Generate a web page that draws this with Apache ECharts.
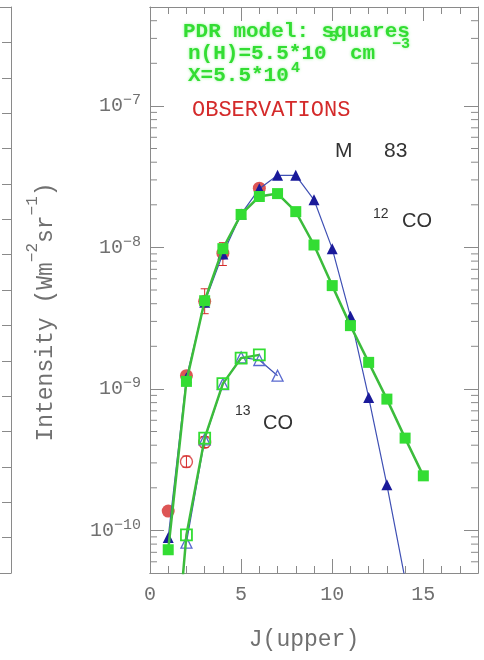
<!DOCTYPE html>
<html>
<head>
<meta charset="utf-8">
<script src="https://cdn.jsdelivr.net/npm/echarts@6/dist/echarts.min.js"></script>
<style>
  html, body { margin: 0; padding: 0; background: #fff; }
  #chart { width: 484px; height: 660px; }
</style>
</head>
<body>
<div id="chart"></div>
<script>
// J(upper) levels
const jUpper12 = [1, 2, 3, 4, 5, 6, 7, 8, 9, 10, 11, 12, 13, 14, 15];
const jUpper12Lvg = [1, 2, 3, 4, 5, 6, 7, 8, 9, 10, 11, 12, 13, 14];
const jUpper13 = [1, 2, 3, 4, 5, 6];
const jUpper13Lvg = [2, 3, 4, 5, 6, 7];
const jObs12 = [1, 2, 3, 4, 6];
const jObs13 = [2, 3];

// intensities (W m^-2 sr^-1)
const co12Pdr = [7.3e-11, 1.13e-9, 4.2e-9, 9.8e-9, 1.71e-8, 2.29e-8, 2.4e-8, 1.79e-8, 1.04e-8, 5.37e-9, 2.8e-9, 1.54e-9, 8.47e-10, 4.49e-10, 2.43e-10];
const co12Lvg = [8.9e-11, 1.2e-9, 4.1e-9, 9.0e-9, 1.72e-8, 2.6e-8, 3.23e-8, 3.23e-8, 2.17e-8, 9.8e-9, 3.26e-9, 8.7e-10, 2.1e-10, 4.5e-11];
const co13Pdr = [3e-12, 9.3e-11, 4.49e-10, 1.09e-9, 1.65e-9, 1.74e-9];
const co13Lvg = [8.2e-11, 4.4e-10, 1.08e-9, 1.67e-9, 1.6e-9, 1.24e-9];
const co12Obs = [1.37e-10, 1.24e-9, 4.16e-9, 9.1e-9, 2.62e-8];
const co13Obs = [3.06e-10, 4.2e-10];
// error bars: [J, low, high]
const obsErrors = [[3, 3.4e-9, 5.1e-9], [4, 7.45e-9, 1.08e-8], [2, 2.8e-10, 3.35e-10], [3, 3.85e-10, 4.6e-10]];

// axis decoration
const minorMantissa = [2, 3, 4, 5, 6, 7, 8, 9];
const minorDecades = [1e-11, 1e-10, 1e-9, 1e-8, 1e-7];

const AXIS = '#8a8a8a';
const TXT = '#707070';
const GREEN = '#33dd33';
const GREEN_LINE = '#3cbc3c';
const BLUE = '#1a1a9a';
const BLUE_LINE = '#3f50b4';
const RED = '#d42a2a';
const MONO = '"Liberation Mono", monospace';
const SANS = '"Liberation Sans", Arial, sans-serif';

const yMin = 5e-11, yMax = 5e-7;

let minorY = [];
minorDecades.forEach(function (d) {
  minorMantissa.forEach(function (m) {
    const v = m * d;
    if (v > yMin * 1.0001 && v < yMax * 0.9999) minorY.push([0, v]);
  });
});

function pairs(xs, ys) {
  return xs.map(function (x, i) { return [x, ys[i]]; });
}

function txt(x, y, text, font, color, align, glow) {
  let st = { text: text, font: font, fill: color, align: align || 'left', verticalAlign: 'middle' };
  if (glow) {
    st.textShadowColor = 'rgba(80,240,80,0.6)';
    st.textShadowBlur = 3;
  }
  return { type: 'text', x: x, y: y, silent: true, style: st };
}

let chart = echarts.init(document.getElementById('chart'), null, { renderer: 'canvas' });

let lineCfg = { show: true, onZero: false, lineStyle: { color: AXIS, width: 1 } };

let xCommon = {
  gridIndex: 0, type: 'value', min: 0, max: 18,
  axisLine: lineCfg,
  splitLine: { show: false }
};

let option = {
  animation: false,
  backgroundColor: '#fff',
  grid: [
    { left: 150, right: 6, top: 7, bottom: 87 },
    { left: 0, right: 473, top: 7, bottom: 87 }
  ],
  xAxis: [
    Object.assign({}, xCommon, { position: 'bottom', interval: 1,
      axisTick: { inside: true, length: 7, lineStyle: { color: AXIS } }, axisLabel: { show: false } }),
    Object.assign({}, xCommon, { position: 'bottom', interval: 5,
      axisTick: { inside: true, length: 14, lineStyle: { color: AXIS } },
      axisLabel: { show: true, margin: 12, fontFamily: MONO, fontSize: 20, color: TXT,
        formatter: function (v) { return (v % 5 === 0 && v <= 15) ? String(v) : ''; } } }),
    Object.assign({}, xCommon, { position: 'top', interval: 1,
      axisTick: { inside: true, length: 7, lineStyle: { color: AXIS } }, axisLabel: { show: false } }),
    Object.assign({}, xCommon, { position: 'top', interval: 5,
      axisTick: { inside: true, length: 14, lineStyle: { color: AXIS } }, axisLabel: { show: false } }),
    { gridIndex: 1, type: 'value', min: 0, max: 1, position: 'bottom', axisLine: lineCfg,
      axisTick: { show: false }, axisLabel: { show: false }, splitLine: { show: false } },
    { gridIndex: 1, type: 'value', min: 0, max: 1, position: 'top', axisLine: lineCfg,
      axisTick: { show: false }, axisLabel: { show: false }, splitLine: { show: false } }
  ],
  yAxis: [
    { gridIndex: 0, type: 'log', logBase: 10, min: yMin, max: yMax, position: 'left',
      axisLine: lineCfg,
      axisTick: { inside: true, length: 14, lineStyle: { color: AXIS } },
      splitLine: { show: false },
      axisLabel: {
        margin: 9,
        formatter: function (v) {
          const lg = Math.log10(v);
          const e = Math.round(lg);
          if (Math.abs(lg - e) > 1e-6) return '';
          return '{b|10}{s|\u2212' + Math.abs(e) + '}';
        },
        rich: {
          b: { fontFamily: MONO, fontSize: 20, color: TXT, lineHeight: 26 },
          s: { fontFamily: MONO, fontSize: 15, color: TXT, lineHeight: 17, verticalAlign: 'top' }
        }
      }
    },
    { gridIndex: 0, type: 'log', logBase: 10, min: yMin, max: yMax, position: 'right',
      axisLine: lineCfg,
      axisTick: { inside: true, length: 14, lineStyle: { color: AXIS } },
      splitLine: { show: false }, axisLabel: { show: false }
    },
    { gridIndex: 1, type: 'value', min: 0, max: 16, interval: 1, position: 'right',
      axisLine: lineCfg,
      axisTick: { inside: true, length: 9, lineStyle: { color: AXIS } },
      splitLine: { show: false }, axisLabel: { show: false }
    }
  ],
  graphic: [
    {
      type: 'text', x: 46, y: 312, rotation: Math.PI / 2, silent: true,
      style: {
        text: '{a|Intensity (Wm}{s|\u22122}{a|sr}{s|\u22121}{a|)}',
        align: 'center', verticalAlign: 'middle',
        rich: {
          a: { fontFamily: MONO, fontSize: 23, fill: TXT, color: TXT, lineHeight: 42 },
          s: { fontFamily: MONO, fontSize: 16, fill: TXT, color: TXT, lineHeight: 16, verticalAlign: 'top' }
        }
      }
    },
    txt(304, 640, 'J(upper)', '23px ' + MONO, TXT, 'center'),
    txt(183, 32, 'PDR model: squares', 'bold 21px ' + MONO, GREEN, 'left', true),
    txt(188, 54, 'n(H)=5.5*10', 'bold 21px ' + MONO, GREEN, 'left', true),
    txt(329, 37, '5', 'bold 15px ' + MONO, GREEN, 'left', true),
    txt(350, 54, 'cm', 'bold 21px ' + MONO, GREEN, 'left', true),
    txt(392, 44, '\u22123', 'bold 15px ' + MONO, GREEN, 'left', true),
    txt(188, 76, 'X=5.5*10', 'bold 21px ' + MONO, GREEN, 'left', true),
    txt(291, 68, '4', 'bold 15px ' + MONO, GREEN, 'left', true),
    txt(192, 110, 'OBSERVATIONS', '22px ' + MONO, RED),
    txt(335, 151, 'M', '21px ' + SANS, '#333'),
    txt(384, 151, '83', '21px ' + SANS, '#333'),
    txt(373, 214, '12', '14px ' + SANS, '#333'),
    txt(402, 221, 'CO', '20px ' + SANS, '#333'),
    txt(235, 411, '13', '14px ' + SANS, '#333'),
    txt(263, 423, 'CO', '20px ' + SANS, '#333')
  ],
  series: [
    {
      name: 'minor ticks', type: 'custom', xAxisIndex: 0, yAxisIndex: 0, silent: true, z: 1,
      data: minorY, encode: { x: 0, y: 1 },
      renderItem: function (params, api) {
        const p = api.coord([0, api.value(1)]);
        const cs = params.coordSys;
        return {
          type: 'group', children: [
            { type: 'line', shape: { x1: cs.x, y1: p[1], x2: cs.x + 7, y2: p[1] }, style: { stroke: AXIS, lineWidth: 1 } },
            { type: 'line', shape: { x1: cs.x + cs.width - 7, y1: p[1], x2: cs.x + cs.width, y2: p[1] }, style: { stroke: AXIS, lineWidth: 1 } }
          ]
        };
      }
    },
    {
      name: '13CO obs', type: 'scatter', xAxisIndex: 0, yAxisIndex: 0, z: 2,
      data: pairs(jObs13, co13Obs), symbol: 'circle', symbolSize: 12,
      itemStyle: { color: 'rgba(255,255,255,0)', borderColor: RED, borderWidth: 1.4 }
    },
    {
      name: '12CO obs', type: 'scatter', xAxisIndex: 0, yAxisIndex: 0, z: 2,
      data: pairs(jObs12, co12Obs), symbol: 'circle', symbolSize: 13,
      itemStyle: { color: RED }
    },
    {
      name: 'errors', type: 'custom', xAxisIndex: 0, yAxisIndex: 0, silent: true, z: 2,
      data: obsErrors, encode: { x: 0, y: [1, 2] },
      renderItem: function (params, api) {
        const lo = api.coord([api.value(0), api.value(1)]);
        const hi = api.coord([api.value(0), api.value(2)]);
        const st = { stroke: RED, lineWidth: 1 };
        return {
          type: 'group', children: [
            { type: 'line', shape: { x1: lo[0], y1: lo[1], x2: hi[0], y2: hi[1] }, style: st },
            { type: 'line', shape: { x1: lo[0] - 4, y1: lo[1], x2: lo[0] + 4, y2: lo[1] }, style: st },
            { type: 'line', shape: { x1: hi[0] - 4, y1: hi[1], x2: hi[0] + 4, y2: hi[1] }, style: st }
          ]
        };
      }
    },
    {
      name: '13CO LVG', type: 'line', xAxisIndex: 0, yAxisIndex: 0, z: 3,
      data: pairs(jUpper13Lvg, co13Lvg), symbol: 'triangle', symbolSize: 11,
      lineStyle: { color: BLUE_LINE, width: 1.2 },
      itemStyle: { color: 'rgba(255,255,255,0)', borderColor: '#5a6ad0', borderWidth: 1.3 }
    },
    {
      name: '12CO LVG', type: 'line', xAxisIndex: 0, yAxisIndex: 0, z: 3,
      data: pairs(jUpper12Lvg, co12Lvg), symbol: 'triangle', symbolSize: 11,
      lineStyle: { color: BLUE_LINE, width: 1.2 },
      itemStyle: { color: BLUE }
    },
    {
      name: '13CO PDR', type: 'line', xAxisIndex: 0, yAxisIndex: 0, z: 4,
      data: pairs(jUpper13, co13Pdr), symbol: 'rect', symbolSize: 11,
      lineStyle: { color: GREEN_LINE, width: 2.5 },
      itemStyle: { color: 'rgba(255,255,255,0)', borderColor: GREEN, borderWidth: 1.8 }
    },
    {
      name: '12CO PDR', type: 'line', xAxisIndex: 0, yAxisIndex: 0, z: 4,
      data: pairs(jUpper12, co12Pdr), symbol: 'rect', symbolSize: 11,
      lineStyle: { color: GREEN_LINE, width: 2.5 },
      itemStyle: { color: GREEN }
    }
  ]
};

chart.setOption(option);
</script>
</body>
</html>
